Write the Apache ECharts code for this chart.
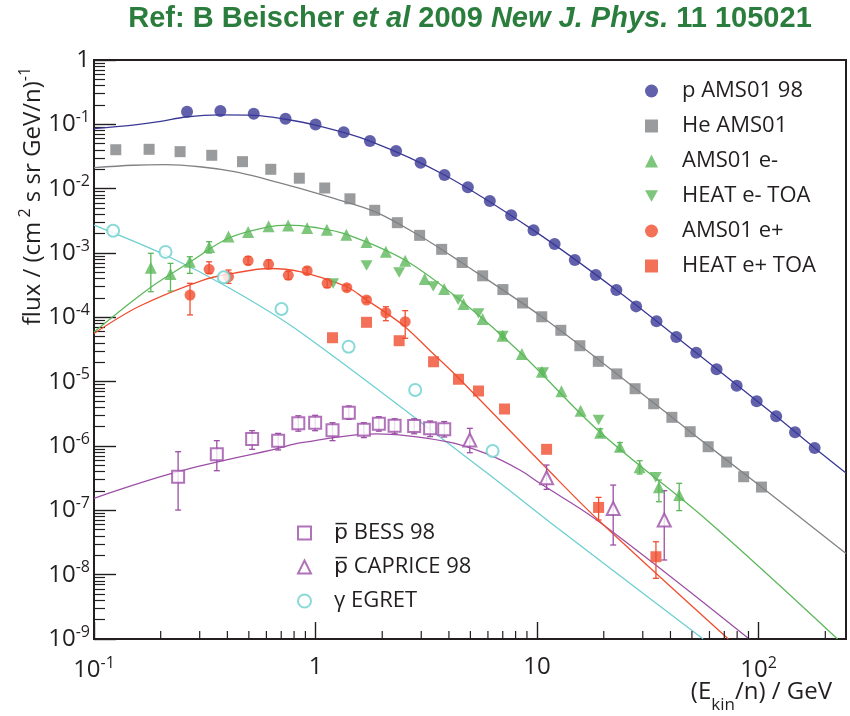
<!DOCTYPE html>
<html>
<head>
<meta charset="utf-8">
<title>Cosmic ray fluxes</title>
<script src="https://cdn.jsdelivr.net/npm/echarts@6.0.0/dist/echarts.min.js"></script>
<style>
  html, body { margin: 0; padding: 0; background: #fff; }
  #chart { width: 850px; height: 716px; }
</style>
</head>
<body>
<div id="chart"></div>
<script>
// values: E_kin/n in GeV, flux in (cm^2 s sr GeV/n)^-1

// protons, AMS01 98
const protonE = [0.263, 0.372, 0.526, 0.732, 1.00, 1.34, 1.76, 2.31, 2.98, 3.82, 4.87, 6.12, 7.64, 9.64, 12.0, 14.8, 18.4, 22.8, 28.0, 34.6, 42.5, 52.3, 64.6, 79.6, 98.0, 120, 146, 179]
const protonFlux = [0.157, 0.161, 0.146, 0.122, 0.0994, 0.0755, 0.0551, 0.0385, 0.0253, 0.0163, 0.0105, 0.00643, 0.00385, 0.00225, 0.00138, 7.78e-4, 4.55e-4, 2.66e-4, 1.48e-4, 8.67e-5, 4.94e-5, 2.82e-5, 1.56e-5, 8.65e-6, 4.95e-6, 2.89e-6, 1.63e-6, 9.31e-7]
const protonCurveE = [0.1, 0.15, 0.2, 0.26, 0.37, 0.53, 0.73, 1.0, 1.76, 3.82, 9.64, 22.8, 52.3, 120, 179, 248]
const protonCurveFlux = [0.086, 0.0975, 0.111, 0.13, 0.14, 0.138, 0.12, 0.097, 0.055, 0.0163, 0.00225, 2.66e-4, 2.82e-5, 2.89e-6, 9.31e-7, 3.8e-7]

// helium, AMS01
const heE = [0.1254, 0.1773, 0.2447, 0.340, 0.468, 0.628, 0.845, 1.10, 1.43, 1.85, 2.34, 2.95, 3.71, 4.59, 5.68, 7.01, 8.60, 10.5, 12.8, 15.6, 18.9, 22.9, 27.7, 33.6, 40.6, 49.1, 59.2, 71.7, 85.6, 103]
const heFlux = [0.0403, 0.0409, 0.0376, 0.0330, 0.0263, 0.0200, 0.01455, 0.01024, 0.00696, 0.00461, 0.00296, 0.00188, 0.00114, 7.11e-4, 4.42e-4, 2.70e-4, 1.67e-4, 1.02e-4, 6.29e-5, 3.62e-5, 2.07e-5, 1.32e-5, 7.77e-6, 4.54e-6, 2.79e-6, 1.67e-6, 9.75e-7, 5.63e-7, 3.33e-7, 2.30e-7]
const heCurveE = [0.1, 0.15, 0.21, 0.3, 0.43, 0.6, 0.85, 1.2, 1.85, 2.95, 4.59, 10.5, 22.9, 49.1, 103, 248]
const heCurveFlux = [0.0212, 0.0231, 0.0236, 0.0219, 0.0184, 0.014, 0.0101, 0.0071, 0.0044, 0.00185, 7.0e-4, 1.02e-4, 1.32e-5, 1.67e-6, 2.3e-7, 2.14e-8]

// electrons, AMS01 and HEAT
const elE = [0.1805, 0.2215, 0.2707, 0.3308, 0.4047, 0.4963, 0.6136, 0.7521, 0.9166, 1.125, 1.377, 1.699, 2.077, 2.539, 3.109, 3.807, 4.654, 5.675, 6.987, 8.537, 10.51, 12.88, 15.72, 19.27, 23.65, 29.03, 35.47, 43.81]
const elFlux = [5.91e-4, 4.71e-4, 7.32e-4, 1.24e-3, 1.80e-3, 2.12e-3, 2.60e-3, 2.67e-3, 2.45e-3, 2.30e-3, 1.92e-3, 1.48e-3, 1.05e-3, 7.56e-4, 3.94e-4, 2.76e-4, 1.61e-4, 9.41e-5, 5.18e-5, 2.69e-5, 1.43e-5, 7.08e-6, 3.53e-6, 1.61e-6, 9.74e-7, 4.66e-7, 2.28e-7, 1.73e-7]
const elErrE = [0.1805, 0.2215, 0.2707, 0.3308, 19.27, 23.65, 29.03, 35.47, 43.81]
const elErrLo = [2.5e-4, 2.56e-4, 4.83e-4, 1.0e-3, 1.4e-6, 8.4e-7, 3.67e-7, 1.36e-7, 9.9e-8]
const elErrHi = [9.9e-4, 6.9e-4, 8.75e-4, 1.5e-3, 1.85e-6, 1.13e-6, 5.9e-7, 2.96e-7, 2.63e-7]
const heatElE = [1.20, 1.70, 2.385, 3.40, 4.40, 5.44, 6.99, 10.65, 18.95, 34.3]
const heatElFlux = [3.36e-4, 6.39e-4, 4.97e-4, 3.03e-4, 1.88e-4, 1.15e-4, 5.13e-5, 1.39e-5, 2.54e-6, 3.26e-7]
const elCurveE = [0.1, 0.1786, 0.2713, 0.406, 0.609, 0.75, 1.0, 1.37, 2.53, 4.67, 8.53, 19.2, 58.3, 227]
const elCurveFlux = [5.9e-5, 2.86e-4, 7.24e-4, 1.71e-3, 2.54e-3, 2.72e-3, 2.49e-3, 1.97e-3, 7.78e-4, 1.67e-4, 2.69e-5, 1.65e-6, 7.07e-8, 1e-9]

// positrons, AMS01 and HEAT
const posE = [0.2713, 0.3308, 0.4047, 0.4963, 0.6136, 0.7534, 0.9166, 1.128, 1.384, 1.699, 2.077, 2.539]
const posFlux = [2.22e-4, 5.58e-4, 4.28e-4, 7.59e-4, 6.67e-4, 4.50e-4, 5.31e-4, 3.38e-4, 2.89e-4, 1.86e-4, 1.18e-4, 8.55e-5]
const posLo = [1.09e-4, 4.83e-4, 3.38e-4, 6.6e-4, 5.7e-4, 3.9e-4, 4.7e-4, 2.9e-4, 2.6e-4, 1.7e-4, 8.86e-5, 4.72e-5]
const posHi = [3.38e-4, 7.3e-4, 5.44e-4, 8.8e-4, 7.8e-4, 5.2e-4, 6.0e-4, 3.9e-4, 3.2e-4, 2.05e-4, 1.46e-4, 1.27e-4]
const heatPosE = [1.193, 1.699, 2.385, 3.41, 4.42, 5.44, 7.13, 11.04, 18.95, 34.4]
const heatPosFlux = [4.82e-5, 8.37e-5, 4.33e-5, 2.04e-5, 1.09e-5, 7.16e-6, 3.76e-6, 8.88e-7, 1.11e-7, 1.90e-8]
const heatPosErrE = [18.95, 34.4]
const heatPosErrLo = [7.07e-8, 8.77e-9]
const heatPosErrHi = [1.59e-7, 3.25e-8]
const posCurveE = [0.1, 0.161, 0.311, 0.425, 0.622, 0.849, 1.38, 1.70, 2.077, 2.54, 3.41, 4.42, 11.04, 18.9, 73]
const posCurveFlux = [5.6e-5, 1.5e-4, 3.8e-4, 4.83e-4, 5.74e-4, 5.12e-4, 2.99e-4, 1.86e-4, 1.18e-4, 7.08e-5, 2.69e-5, 1.14e-5, 4.5e-7, 7.07e-8, 1e-9]

// antiprotons, BESS 98 and CAPRICE 98
const bessE = [0.2397, 0.3584, 0.5174, 0.6779, 0.836, 0.996, 1.193, 1.413, 1.652, 1.931, 2.274, 2.787, 3.29, 3.81]
const bessFlux = [3.33e-7, 7.43e-7, 1.28e-6, 1.21e-6, 2.25e-6, 2.30e-6, 1.75e-6, 3.29e-6, 1.79e-6, 2.22e-6, 2.06e-6, 2.04e-6, 1.88e-6, 1.82e-6]
const bessLo = [1.01e-7, 4.13e-7, 8.88e-7, 8.67e-7, 1.7e-6, 1.73e-6, 1.21e-6, 2.6e-6, 1.35e-6, 1.7e-6, 1.55e-6, 1.55e-6, 1.4e-6, 1.38e-6]
const bessHi = [8.15e-7, 1.21e-6, 1.73e-6, 1.57e-6, 2.95e-6, 3.0e-6, 2.3e-6, 4.19e-6, 2.3e-6, 2.85e-6, 2.65e-6, 2.65e-6, 2.45e-6, 2.4e-6]
const capE = [4.97, 11.04, 22.06, 37.5]
const capFlux = [1.24e-6, 3.21e-7, 1.07e-7, 7.08e-8]
const capLo = [7.86e-7, 2.12e-7, 2.89e-8, 1.69e-8]
const capHi = [1.88e-6, 5.06e-7, 2.47e-7, 2.02e-7]
const pbarCurveE = [0.1, 0.2397, 0.678, 0.849, 1.886, 3.90, 5.9, 8.36, 10.3, 18.6, 90.7]
const pbarCurveFlux = [1.54e-7, 3.98e-7, 9.2e-7, 1.12e-6, 1.54e-6, 1.17e-6, 7.6e-7, 4.24e-7, 2.63e-7, 7.07e-8, 1e-9]

// gamma rays, EGRET
const gammaE = [0.122, 0.2103, 0.3855, 0.702, 1.41, 2.817, 6.30]
const gammaFlux = [2.22e-3, 1.04e-3, 4.19e-4, 1.35e-4, 3.49e-5, 7.41e-6, 8.36e-7]
const gammaCurveE = [0.1, 0.210, 0.41, 0.849, 5.71, 12.7, 56.2]
const gammaCurveFlux = [2.72e-3, 9.3e-4, 2.83e-4, 5.97e-5, 4.24e-7, 4.94e-8, 1e-9]

// minor tick values of the energy axis
const xMinorTicks = [0.2, 0.3, 0.4, 0.5, 0.6, 0.7, 0.8, 0.9, 2, 3, 4, 5, 6, 7, 8, 9, 20, 30, 40, 50, 60, 70, 80, 90, 200]

const legendTop = ['p AMS01 98', 'He AMS01', 'AMS01 e-', 'HEAT e- TOA', 'AMS01 e+', 'HEAT e+ TOA']
const legendBottom = ['pbar BESS 98', 'pbar CAPRICE 98', 'gamma EGRET']
const legendBottomText = ['{p|p\u0305} BESS 98', '{p|p\u0305} CAPRICE 98', '\u03b3 EGRET']

const BLUE = '#3a3896'
const GRAY = '#808285'
const GREEN = '#5cb85a'
const RED = '#f04e30'
const PURPLE = '#9c4fa6'
const CYAN = '#6dcfd0'
const INK = '#231f20'
const FONT = '"Open Sans", "Noto Sans", sans-serif'
const DOWN_TRIANGLE = 'path://M0,0 L2,0 L1,1.732 Z'

function pairs(xs, ys) {
  return xs.map((x, i) => [x, ys[i]])
}

function triples(xs, lo, hi) {
  return xs.map((x, i) => [x, lo[i], hi[i]])
}

function powLabel(v) {
  const l = Math.log10(v)
  const e = Math.round(l)
  if (Math.abs(l - e) > 1e-6) return ''
  if (e === 0) return '{b|1}'
  if (e === 1) return '{b|10}'
  return '{b|10}{e|' + e + '}'
}

function curve(data, color) {
  return {
    type: 'line',
    data: data,
    smooth: 0.35,
    symbol: 'none',
    silent: true,
    z: 1,
    lineStyle: { color: color, width: 1.3 }
  }
}

function points(name, data, symbol, size, color, empty) {
  return {
    name: name,
    type: 'scatter',
    data: data,
    symbol: symbol,
    symbolSize: size,
    symbolKeepAspect: true,
    z: 4,
    itemStyle: empty
      ? { color: color, borderColor: color, borderWidth: 1.3 }
      : { color: color }
  }
}

function errorBars(data, color) {
  return {
    type: 'custom',
    data: data,
    encode: { x: 0, y: [1, 2] },
    silent: true,
    z: 3,
    renderItem(params, api) {
      const x = api.value(0)
      const top = api.coord([x, api.value(2)])
      const bot = api.coord([x, api.value(1)])
      const cap = 3
      const seg = (x1, y1, x2, y2) => ({
        type: 'line',
        shape: { x1: x1, y1: y1, x2: x2, y2: y2 },
        style: { stroke: color, lineWidth: 1.3 }
      })
      return {
        type: 'group',
        children: [
          seg(top[0], top[1], bot[0], bot[1]),
          seg(top[0] - cap, top[1], top[0] + cap, top[1]),
          seg(bot[0] - cap, bot[1], bot[0] + cap, bot[1])
        ]
      }
    }
  }
}

// short upward ticks at 2..9 x each decade, placed through the log x axis
function xMinorTickSeries() {
  return {
    type: 'custom',
    data: xMinorTicks.map(v => [v, 1e-9]),
    encode: { x: 0, y: 1 },
    silent: true,
    z: 6,
    renderItem(params, api) {
      const p = api.coord([api.value(0), api.value(1)])
      return {
        type: 'line',
        shape: { x1: p[0], y1: p[1], x2: p[0], y2: p[1] - 8 },
        style: { stroke: INK, lineWidth: 1.2 }
      }
    }
  }
}

const tickRich = {
  b: { fontSize: 24, fontFamily: FONT, color: INK },
  e: { fontSize: 16, fontFamily: FONT, color: INK, padding: [0, 0, 14, 0] }
}

const legendText = { fontSize: 22, lineHeight: 24, fontFamily: FONT, color: INK }

const chart = echarts.init(document.getElementById('chart'), null, { renderer: 'canvas' })

chart.setOption({
  backgroundColor: '#fff',
  animation: false,
  grid: {
    left: 94,
    right: 4,
    top: 60,
    bottom: 77,
    show: true,
    borderColor: INK,
    borderWidth: 2,
    backgroundColor: 'transparent'
  },
  xAxis: {
    type: 'log',
    logBase: 10,
    min: 0.1,
    max: 248,
    axisLine: { lineStyle: { color: INK, width: 2 } },
    axisTick: { inside: true, length: 17, lineStyle: { color: INK, width: 1.4 } },
    minorTick: { show: false },
    splitLine: { show: false },
    axisLabel: { margin: 16, formatter: powLabel, rich: tickRich, showMaxLabel: false }
  },
  yAxis: {
    type: 'log',
    logBase: 10,
    min: 1e-9,
    max: 1,
    axisLine: { lineStyle: { color: INK, width: 2 } },
    axisTick: { inside: true, length: 22, lineStyle: { color: INK, width: 1.4 } },
    minorTick: { show: true, splitNumber: 9, length: 11, lineStyle: { color: INK, width: 1.2 } },
    splitLine: { show: false },
    axisLabel: { margin: 4, formatter: powLabel, rich: tickRich }
  },
  legend: [
    {
      data: legendTop,
      orient: 'vertical',
      left: 640,
      top: 74,
      itemWidth: 13,
      itemHeight: 13,
      itemGap: 11,
      selectedMode: false,
      textStyle: Object.assign({ padding: [0, 0, 0, 19] }, legendText)
    },
    {
      data: legendBottom,
      orient: 'vertical',
      left: 292,
      top: 516,
      itemWidth: 13,
      itemHeight: 13,
      itemGap: 10,
      selectedMode: false,
      formatter: name => legendBottomText[legendBottom.indexOf(name)],
      textStyle: Object.assign({
        padding: [0, 0, 0, 18],
        rich: { p: { fontSize: 22, fontFamily: '"DejaVu Sans"', color: INK } }
      }, legendText)
    }
  ],
  graphic: [
    {
      type: 'text',
      x: 470,
      y: 19,
      style: {
        text: '{n|Ref: B Beischer }{i|et al}{n| 2009 }{i|New J. Phys.}{n| 11 105021}',
        align: 'center',
        verticalAlign: 'middle',
        rich: {
          n: { fontSize: 29, fontWeight: 'bold', fontFamily: '"Liberation Sans", Arial', fill: '#2a7d3c' },
          i: { fontSize: 29, fontWeight: 'bold', fontStyle: 'italic', fontFamily: '"Liberation Sans", Arial', fill: '#2a7d3c' }
        }
      }
    },
    {
      type: 'text',
      x: 33,
      y: 196,
      rotation: Math.PI / 2,
      style: {
        text: '{t|flux / (cm}{s| 2}{t| s sr GeV/n)}{s|-1}',
        align: 'center',
        verticalAlign: 'middle',
        rich: {
          t: { fontSize: 24, fontFamily: FONT, fill: INK },
          s: { fontSize: 16, fontFamily: FONT, fill: INK, padding: [0, 0, 15, 0] }
        }
      }
    },
    {
      type: 'text',
      x: 832,
      y: 692,
      style: {
        text: '{t|(E}{k|kin}{t|/n) / GeV}',
        align: 'right',
        verticalAlign: 'middle',
        rich: {
          t: { fontSize: 24, fontFamily: FONT, fill: INK },
          k: { fontSize: 17, fontFamily: FONT, fill: INK, padding: [26, 0, 0, 0] }
        }
      }
    }
  ],
  series: [
    xMinorTickSeries(),
    curve(pairs(gammaCurveE, gammaCurveFlux), CYAN),
    curve(pairs(pbarCurveE, pbarCurveFlux), PURPLE),
    curve(pairs(posCurveE, posCurveFlux), RED),
    curve(pairs(elCurveE, elCurveFlux), GREEN),
    curve(pairs(heCurveE, heCurveFlux), GRAY),
    curve(pairs(protonCurveE, protonCurveFlux), BLUE),
    errorBars(triples(elErrE, elErrLo, elErrHi), GREEN),
    errorBars(triples(posE, posLo, posHi), RED),
    errorBars(triples(heatPosErrE, heatPosErrLo, heatPosErrHi), RED),
    errorBars(triples(bessE, bessLo, bessHi), PURPLE),
    errorBars(triples(capE, capLo, capHi), PURPLE),
    points(legendTop[0], pairs(protonE, protonFlux), 'circle', 12, BLUE),
    points(legendTop[1], pairs(heE, heFlux), 'rect', 11, GRAY),
    points(legendTop[2], pairs(elE, elFlux), 'triangle', 12, GREEN),
    points(legendTop[3], pairs(heatElE, heatElFlux), DOWN_TRIANGLE, 12, GREEN),
    points(legendTop[4], pairs(posE, posFlux), 'circle', 11, RED),
    points(legendTop[5], pairs(heatPosE, heatPosFlux), 'rect', 11, RED),
    points(legendBottom[0], pairs(bessE, bessFlux), 'emptyRect', 12, PURPLE, true),
    points(legendBottom[1], pairs(capE, capFlux), 'emptyTriangle', 13, PURPLE, true),
    points(legendBottom[2], pairs(gammaE, gammaFlux), 'emptyCircle', 12, CYAN, true)
  ]
})
</script>
</body>
</html>
